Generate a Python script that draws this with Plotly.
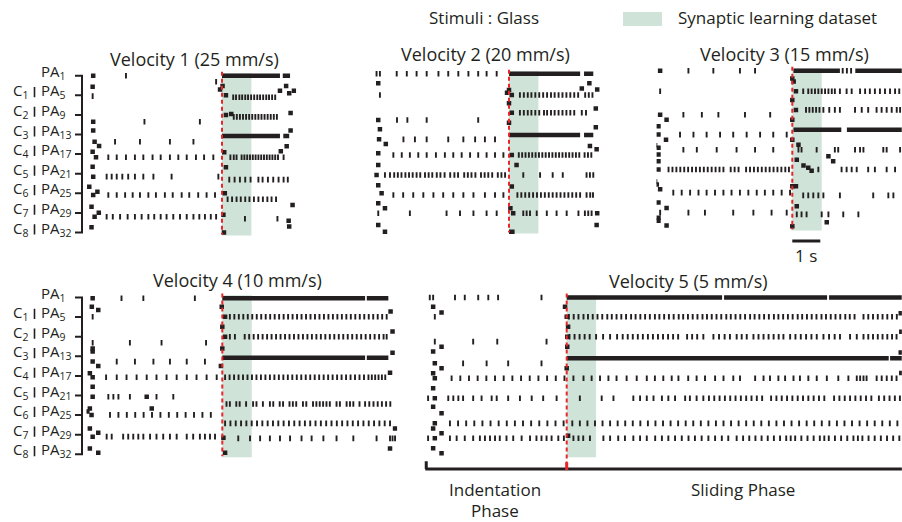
import plotly.graph_objects as go

W, H = 902, 522
PXS = 28.0     # pixels per second on every raster
UPX = 19.6     # pixels per afferent-row unit
FONT = "Open Sans"
INK = "#231f20"
GREEN = "#cfe3d8"
RED = "#e8262b"

TITLES = ["Velocity 1 (25 mm/s)", "Velocity 2 (20 mm/s)", "Velocity 3 (15 mm/s)",
          "Velocity 4 (10 mm/s)", "Velocity 5 (5 mm/s)"]
PA_LABELS = ["PA<sub>1</sub>", "PA<sub>5</sub>", "PA<sub>9</sub>", "PA<sub>13</sub>", "PA<sub>17</sub>",
             "PA<sub>21</sub>", "PA<sub>25</sub>", "PA<sub>29</sub>", "PA<sub>32</sub>"]
C_LABELS = ["C<sub>1</sub>", "C<sub>2</sub>", "C<sub>3</sub>", "C<sub>4</sub>",
            "C<sub>5</sub>", "C<sub>6</sub>", "C<sub>7</sub>", "C<sub>8</sub>"]

# ---------------- spike data (time in s from sliding onset, row position) ----------------
P1_ROWS = [
    (0.0, [-3.43]), (0.31, [-0.21]), (1.04, [-4.62]), (2.35, [-2.77, -0.79]),
    (3.37, [-3.82, -2.93, -1.86, -1.02]),
    (4.16, [-4.06, -3.76, -3.43, -3.11, -2.81, -2.48, -2.19, -1.86, -1.56, -1.26, -0.93, -0.64, -0.31]),
    (5.15, [-4.12, -3.94, -3.76, -3.56, -3.35, -3.11, -2.81, -2.45, -1.8, -0.13]),
    (6.09, [-4.06, -3.76, -3.46, -3.19, -2.93, -2.63, -2.36, -2.04, -1.76, -1.44, -1.17, -0.85, -0.55, -0.25]),
    (7.2, [-4.12, -3.9, -3.64, -3.37, -3.11, -2.87, -2.63, -2.42, -2.19, -1.98, -1.74, -1.5, -1.26, -1.02,
           -0.81, -0.61, -0.4, -0.21]),
    (1.1, [0.4, 0.5, 0.62, 0.72, 0.83, 0.93, 1.04, 1.15, 1.26, 1.36, 1.47, 1.58, 1.68, 1.79, 1.9]),
    (2.1, [0.42, 0.53, 0.64, 0.75, 0.86, 0.97, 1.08, 1.19, 1.3, 1.41, 1.52, 1.63, 1.74, 1.85, 1.96]),
    (4.16, [0.3, 0.42, 0.52, 0.7, 0.8, 0.9, 1.0, 1.1, 1.2, 1.3, 1.4, 1.5, 1.6, 1.7, 1.8, 1.9, 2.0, 2.2]),
    (5.3, [0.26, 0.45, 0.64, 0.83, 1.02, 1.3, 1.45, 1.64, 1.83, 2.02, 2.2, 2.35]),
    (6.3, [0.2, 0.36, 0.52, 0.67, 0.83, 0.98, 1.14, 1.3, 1.46, 1.62, 1.77, 1.93]),
    (7.3, [0.82, 1.98]),
]
P1_DOTS_T = [-4.6, -4.62, -4.6, -4.6, -4.55, -4.39, -4.62, -4.5, -4.62, -4.6, -4.74, -4.45, -4.6, -4.66,
             -4.4, -4.55, -4.66,
             0.02, -0.07, 0.14, 0.14, 0.33, 0.08, 0.14, 0.1, 0.07, 0.05,
             2.07, 2.29, 2.4, 2.57, 2.45, 2.45, 2.1, 2.31, 2.52, 2.38, 2.4]
P1_DOTS_Y = [0.0, 0.56, 2.35, 2.8, 3.37, 3.59, 3.88, 4.16, 4.64, 5.15, 5.66, 5.92, 6.09, 6.68, 6.99, 7.2, 7.73,
             0.53, 0.7, 1.0, 2.0, 1.95, 3.9, 4.67, 6.0, 8.0, 7.1,
             0.77, 0.53, 0.9, 0.77, 1.9, 2.8, 3.85, 3.6, 6.6, 7.4, 7.7]
P1_BURSTS = [(0.0, 0.0, 2.07), (0.0, 2.17, 2.43), (3.08, 0.0, 2.07), (3.08, 2.19, 2.4)]

P2_ROWS = [
    (0.0, [-4.73, -4.61, -4.01, -3.65, -3.3, -2.94, -2.52, -2.17, -1.81, -1.45, -1.1, -0.8, -0.44]),
    (1.09, [-4.61]),
    (1.09, [0.39, 0.53, 0.67, 0.8, 0.94, 1.08, 1.22, 1.36, 1.5, 1.63, 1.77, 1.91, 2.05, 2.19, 2.33, 2.47,
            2.72, 2.85, 2.98]),
    (1.99, [0.39, 0.53, 0.67, 0.8, 0.94, 1.08, 1.25, 1.36, 1.5, 1.63, 1.77, 1.91, 2.05, 2.19, 2.33, 2.6, 2.75]),
    (2.36, [-4.0, -3.63, -2.94, -1.1]),
    (3.35, [-3.77, -3.36, -2.94, -2.17, -1.63, -1.21, -0.86, -0.5]),
    (4.15, [-4.13, -3.83, -3.54, -3.24, -2.94, -2.61, -2.29, -1.99, -1.69, -1.39, -1.1, -0.8, -0.5, -0.2]),
    (4.15, [0.35, 0.47, 0.59, 0.71, 0.83, 0.95, 1.07, 1.19, 1.31, 1.43, 1.55, 1.67, 1.79, 1.91, 2.03, 2.15,
            2.27, 2.39, 2.51, 2.7, 2.82, 2.94]),
    (5.17, [-4.43, -4.25, -4.1, -3.97, -3.84, -3.7, -3.57, -3.44, -3.3, -3.17, -3.0, -2.87, -2.74, -2.58,
            -2.45, -2.3, -2.1, -1.95, -1.82, -1.6, -1.47, -1.34, -1.2, -1.0, -0.87, -0.74, -0.6, -0.4,
            -0.27, -0.14]),
    (5.17, [0.51, 1.11, 1.56, 1.92, 2.77, 2.89, 3.01]),
    (6.19, [-4.13, -3.78, -3.42, -3.06, -2.7, -2.35, -1.99, -1.63, -1.27, -0.86, -0.5, -0.2]),
    (6.19, [0.3, 0.44, 0.58, 0.72, 0.86, 1.0, 1.14, 1.28, 1.42, 1.56, 1.7, 1.84, 1.98, 2.12, 2.26, 2.4,
            2.54, 2.77, 2.9, 3.0]),
    (7.12, [-4.67, -3.54, -2.23, -1.75, -1.27, -0.8, -0.44]),
    (7.12, [0.51, 0.63, 0.75, 0.99, 1.35, 1.7, 2.06, 2.48, 2.71, 2.83, 2.95]),
]
P2_DOTS_T = [-4.67, -4.67, -4.61, -4.64, -4.4, -4.67, -4.67, -4.73, -4.67, -4.55, -4.67, -4.43, -4.67, -4.43,
             0.0, -0.07, 0.1, 0.0, 0.1, 0.0, 0.1, 0.27, 0.1, 0.05, 0.15,
             2.6, 2.87, 3.15, 3.1, 3.1, 2.89, 3.13, 3.15, 3.13]
P2_DOTS_Y = [0.49, 2.36, 2.84, 3.35, 3.59, 4.06, 4.66, 5.17, 5.69, 6.1, 6.61, 6.87, 7.72, 8.06,
             0.83, 0.97, 1.09, 1.51, 1.99, 2.5, 4.15, 4.66, 5.76, 6.87, 7.12,
             0.75, 0.49, 0.8, 1.77, 2.73, 3.69, 3.86, 7.12, 7.72]
P2_BURSTS = [(0.0, 0.0, 2.54), (0.0, 2.68, 3.01), (3.13, 0.0, 2.54), (3.13, 2.68, 3.01), (8.06, 0.0, 0.2)]

P3_ROWS = [
    (0.0, [-3.71, -2.82, -1.87, -1.33]), (0.0, [1.8, 1.95, 2.1]),
    (1.05, [-4.72]),
    (1.05, [0.39, 0.57, 0.69, 0.81, 0.93, 1.05, 1.17, 1.29, 1.41, 1.52, 1.7, 1.94, 2.12, 2.42, 2.6, 2.77,
            2.95, 3.13, 3.31, 3.49, 3.67, 3.82]),
    (2.0, [0.49, 0.61, 0.73, 0.85, 0.97, 1.11, 1.32, 1.52, 1.7, 2.24, 2.48, 2.71, 3.01, 3.19, 3.37, 3.55,
           3.73, 3.85]),
    (2.25, [-3.89, -3.23, -2.64, -1.69, -0.79]),
    (3.26, [-4.01, -3.53, -3.06, -2.58, -2.11, -1.63, -1.15, -0.68, -0.2]),
    (4.03, [-3.89, -3.41, -2.7, -1.99, -1.33, -0.68]),
    (4.03, [0.22, 0.33, 0.87, 1.52, 1.64, 2.24, 2.42, 2.54, 3.25, 3.37, 3.85]),
    (5.04, [-4.96, -4.42, -4.28, -4.14, -4.0, -3.86, -3.72, -3.58, -3.44, -3.3, -3.16, -3.02, -2.88, -2.74,
            -2.6, -2.46, -2.2, -2.06, -1.92, -1.65, -1.51, -1.37, -1.23, -1.09, -0.95, -0.81, -0.67, -0.53,
            -0.39, -0.25, -0.12]),
    (5.04, [0.93, 1.76, 1.94, 2.12, 2.3, 2.71, 2.95, 3.37, 3.67]),
    (6.22, [-4.25, -3.95, -3.65, -3.35, -3.06, -2.76, -2.46, -2.17, -1.87, -1.57, -1.27, -0.98, -0.68,
            -0.38, -0.08]),
    (6.36, [0.39, 0.57, 0.75, 0.93, 1.11, 1.7, 2.89, 3.43, 3.61]),
    (7.24, [-4.72, -3.71, -3.12, -2.11, -1.39, -0.74, -0.2]),
    (7.33, [0.16, 0.33, 0.51, 1.05, 1.29, 1.82, 2.36]),
]
P3_DOTS_T = [-4.72, -4.72, -4.49, -4.78, -4.78, -4.51, -4.9, -4.78, -4.78, -4.78, -4.78, -4.9, -4.84, -4.72,
             -4.78, -4.49, -4.78, -4.78, -4.49,
             0.0, 0.05, 0.0, 0.13, 0.13, 0.0, 0.0, 0.22, 1.29, 1.46, 0.16, 0.4, 0.57, 0.69, 0.0, 0.13, 0.16,
             1.23, 0.0]
P3_DOTS_Y = [0.0, 2.25, 2.5, 2.84, 3.26, 3.52, 3.8, 3.93, 4.28, 4.62, 5.04, 5.65, 5.8, 6.05, 6.73, 7.0, 7.5,
             7.66, 7.9,
             0.4, 0.55, 1.49, 1.05, 2.0, 2.5, 3.52, 3.78, 4.37, 4.62, 4.54, 4.84, 4.95, 5.1, 5.89, 5.89, 6.91,
             7.73, 7.93]
P3_BURSTS = [(0.0, 0.04, 1.7), (0.0, 2.25, 3.92), (3.01, 0.04, 1.75), (3.01, 1.95, 3.92)]

P4_ROWS = [
    (0.04, [-3.6, -2.82, -0.98]),
    (0.98, [-4.63]),
    (0.98, [0.27, 0.43, 0.59, 0.75, 0.91, 1.07, 1.23, 1.39, 1.55, 1.71, 1.87, 2.03, 2.19, 2.35, 2.51, 2.67,
            2.83, 2.99, 3.15, 3.31, 3.47, 3.63, 3.79, 3.95, 4.11, 4.27, 4.43, 4.59, 4.75, 4.91, 5.07, 5.23,
            5.39, 5.55, 5.71, 5.87]),
    (2.0, [0.27, 0.45, 0.8, 0.96, 1.12, 1.28, 1.44, 1.6, 1.76, 1.92, 2.08, 2.24, 2.4, 2.56, 2.72, 2.88,
           3.04, 3.2, 3.36, 3.52, 3.68, 3.84, 4.0, 4.16, 4.32, 4.48, 4.64, 4.8, 4.96, 5.12, 5.28, 5.44, 5.6,
           5.76, 5.87]),
    (2.31, [-4.63, -3.3, -2.17, -0.58]),
    (3.27, [-3.77, -3.12, -2.46, -1.87, -1.27, -0.62]),
    (4.07, [-4.15, -3.77, -3.42, -3.06, -2.7, -2.35, -1.99, -1.63, -1.27, -0.92, -0.56, -0.2]),
    (4.07, [0.1, 0.26, 0.42, 0.58, 0.74, 0.9, 1.06, 1.22, 1.38, 1.54, 1.7, 1.86, 2.02, 2.18, 2.34, 2.5,
            2.66, 2.82, 2.98, 3.14, 3.3, 3.46, 3.62, 3.78, 3.94, 4.1, 4.26, 4.42, 4.58, 4.74, 4.9, 5.06, 5.22,
            5.34, 5.46, 5.58, 5.7, 5.82]),
    (5.06, [-4.07, -3.89, -3.71, -3.3, -2.35, -1.75]),
    (5.43, [0.15, 0.27, 0.5, 0.62, 0.85, 1.1, 1.22, 1.45, 1.7, 1.82, 2.05, 2.17, 2.4, 2.52, 2.64, 2.88, 3.0,
            3.24, 3.36, 3.48, 3.6, 3.72, 3.84, 4.08, 4.2, 4.44, 4.56, 4.68, 4.9, 5.1, 5.25, 5.4, 5.55, 5.7,
            5.85, 6.0]),
    (5.99, [-4.01, -3.71, -3.41, -3.11, -2.81, -2.51, -2.21, -1.91, -1.61, -1.31, -1.01, -0.71, -0.41]),
    (6.42, [0.1, 0.29, 0.48, 0.67, 0.86, 1.05, 1.24, 1.43, 1.62, 1.81, 2.0, 2.19, 2.38, 2.57, 2.76, 2.95,
            3.14, 3.33, 3.52, 3.71, 3.9, 4.09, 4.28, 4.47, 4.66, 4.85, 5.04, 5.23, 5.42, 5.61, 5.8, 5.99]),
    (7.1, [-4.13, -3.95, -3.54, -3.36, -3.18, -3.0, -2.82, -2.58, -2.35, -2.11, -1.87, -1.63, -1.27, -1.04,
           -0.8, -0.62, -0.44, -0.26]),
    (7.19, [0.57, 0.99, 1.35, 1.7, 2.06, 2.42, 2.83, 3.19, 3.61, 4.08, 4.68, 5.51, 5.99, 6.08, 6.17]),
]
P4_DOTS_T = [-4.63, -4.66, -4.43, -4.63, -4.63, -4.63, -4.43, -4.73, -4.63, -4.63, -4.63, -2.7, -2.52,
             -4.73, -4.82, -4.67, -4.73, -4.43, -4.63, -4.73, -4.43,
             -0.02, 0.1, 0.0, 0.1, 0.0, -0.05, 0.04, 0.1,
             6.01, 6.08, 6.08, 5.99, 6.17, 5.99]
P4_DOTS_Y = [0.04, 0.47, 0.64, 2.6, 2.76, 3.27, 3.49, 3.87, 4.07, 4.55, 5.06, 5.06, 5.66,
             5.66, 5.82, 5.99, 6.68, 6.9, 7.1, 7.7, 7.92,
             0.47, 0.98, 1.49, 2.0, 2.6, 3.49, 7.15, 7.92,
             0.72, 1.74, 2.82, 3.84, 6.68, 7.7]
P4_BURSTS = [(0.04, 0.0, 5.1), (0.04, 5.16, 5.93), (3.07, 0.0, 5.1), (3.07, 5.16, 5.93)]

P5_ROWS = [
    (0.0, [-4.89, -4.77, -3.99, -3.64, -3.16, -2.8, -2.45, -0.9]),
    (0.98, [-4.71]),
    (0.98, [0.08, 0.25, 0.42, 0.6, 0.76, 0.93, 1.1, 1.27, 1.45, 1.61, 1.78, 1.95, 2.12, 2.3, 2.46, 2.63, 2.8,
            2.97, 3.15, 3.31, 3.48, 3.65, 3.82, 4.0, 4.16, 4.33, 4.5, 4.67, 4.85, 5.01, 5.18, 5.35, 5.52,
            5.7, 5.86, 6.03, 6.2, 6.37, 6.55, 6.71, 6.88, 7.05, 7.22, 7.4, 7.56, 7.73, 7.9, 8.07, 8.25, 8.41,
            8.58, 8.75, 8.92, 9.1, 9.26, 9.43, 9.6, 9.77, 9.95, 10.11, 10.28, 10.6, 10.77, 10.94, 11.11,
            11.28, 11.45, 11.62, 11.79]),
    (2.0, [0.1, 0.28, 0.46, 0.64, 0.82, 1.05, 1.3, 1.55, 1.8, 2.0, 2.18, 2.36, 2.54, 2.72, 2.9, 3.08, 3.26,
           3.44, 3.62, 3.8, 3.98, 4.3, 4.48, 4.66, 4.88, 5.24, 5.44, 5.64, 5.83, 6.07, 6.25, 6.43, 6.67, 6.85,
           7.03, 7.21, 7.39, 7.57, 7.74, 7.98, 8.17, 8.36, 8.55, 8.74, 8.93, 9.17, 9.37, 9.57, 9.76, 10.12,
           10.36, 10.6, 10.77, 10.94, 11.11, 11.28, 11.45, 11.62, 11.78]),
    (2.25, [-4.71, -3.34, -2.48, -0.72]),
    (3.36, [-3.7, -2.86, -2.09, -0.9]),
    (4.12, [-4.11, -3.8, -3.49, -3.18, -2.87, -2.56, -2.25, -1.94, -1.63, -1.32, -1.01, -0.7, -0.39, -0.08]),
    (4.12, [0.24, 0.6, 0.89, 1.19, 1.49, 1.78, 2.14, 2.5, 2.86, 3.15, 3.45, 3.75, 3.99, 4.34, 4.64, 4.94,
            5.3, 5.6, 5.95, 6.19, 6.73, 7.03, 7.26, 7.56, 7.8, 8.1, 8.33, 8.63, 8.93, 9.29, 9.7, 10.06, 10.36,
            10.48, 10.6, 10.71, 11.07, 11.25, 11.43, 11.61, 11.78]),
    (5.14, [-4.95, -4.23, -4.05, -3.87, -3.7, -3.34, -3.04, -2.68, -2.5, -2.09, -1.67, -1.25, -0.84, -0.36]),
    (5.14, [0.47, 1.25, 1.67, 2.38, 2.62, 2.86, 3.1, 3.4, 3.63, 3.87, 4.23, 4.4, 4.64, 4.88, 5.08, 5.27,
            5.46, 5.65, 5.84, 6.03, 6.22, 6.41, 6.6, 6.79, 6.98, 7.3, 7.49, 7.68, 7.87, 8.06, 8.25, 8.44,
            8.63, 8.82, 9.01, 9.2, 9.55, 9.74, 9.93, 10.12, 10.31, 10.5, 10.69, 10.88, 11.15, 11.34, 11.53,
            11.72, 11.9]),
    (6.42, [-4.17, -3.88, -3.59, -3.3, -3.01, -2.72, -2.43, -2.14, -1.85, -1.56, -1.27, -0.98, -0.69, -0.4,
            -0.11]),
    (6.42, [0.2, 0.47, 0.74, 1.01, 1.28, 1.55, 1.82, 2.09, 2.36, 2.63, 2.9, 3.17, 3.44, 3.71, 3.98, 4.25,
            4.52, 4.79, 5.06, 5.33, 5.6, 5.87, 6.14, 6.41, 6.68, 6.95, 7.22, 7.49, 7.76, 8.03, 8.3, 8.57, 8.84,
            9.11, 9.38, 9.65, 9.92, 10.19, 10.46, 10.73, 11.0, 11.27, 11.54, 11.81]),
    (7.18, [-4.95, -4.17, -3.93, -3.64, -3.34, -3.1, -2.92, -2.74, -2.56, -2.39, -2.15, -1.91, -1.61, -1.31,
            -1.08, -0.9, -0.72, -0.54, -0.3, -0.1]),
    (7.18, [0.24, 0.42, 0.59, 0.83, 1.31, 1.55, 1.84, 2.08, 2.38, 2.62, 2.86, 3.16, 3.4, 3.63, 3.87, 4.11,
            4.35, 4.58, 4.82, 5.06, 5.3, 5.54, 5.77, 6.07, 6.3, 6.52, 6.74, 6.96, 7.18, 7.4, 7.62, 7.84, 8.0,
            8.16, 8.38, 8.6, 8.82, 9.04, 9.2, 9.36, 9.58, 9.8, 10.02, 10.24, 10.4, 10.56, 10.78, 11.0, 11.22,
            11.44, 11.66, 11.88]),
]
P5_DOTS_T = [-4.77, -4.47, -4.47, -4.77, -4.71, -4.47, -4.77, -4.71, -4.77, -4.71, -4.77, -4.47, -4.71,
             -4.77, -4.47, -4.71, -4.77, -4.47,
             -0.06, 0.0, 0.05, 0.02, 0.02, 0.0, 0.05,
             11.93, 11.95, 11.93, 11.95]
P5_DOTS_Y = [0.47, 0.77, 2.51, 2.76, 3.36, 3.61, 3.87, 4.12, 4.63, 5.14, 5.57, 5.91, 6.42, 6.68, 6.93, 7.18,
             7.69, 7.95,
             0.47, 0.98, 1.49, 2.0, 2.51, 3.61, 7.05,
             0.8, 1.75, 2.8, 3.85]
P5_BURSTS = [(0.0, 0.0, 5.55), (0.0, 5.62, 9.3), (0.0, 9.37, 11.97), (3.1, 0.0, 11.5), (3.1, 11.55, 11.97)]

# ---------------- panel geometry (pixels in the 902x522 frame) ----------------
PANELS = [
    dict(rows=P1_ROWS, dt=P1_DOTS_T, dy=P1_DOTS_Y, bursts=P1_BURSTS, onset=222.0, top=75.7,
         tmin=-4.85, tmax=2.65, ymax=8.6, title=(194, 59), labels=True, red_end=8.1),
    dict(rows=P2_ROWS, dt=P2_DOTS_T, dy=P2_DOTS_Y, bursts=P2_BURSTS, onset=509.0, top=73.7,
         tmin=-4.85, tmax=3.25, ymax=8.6, title=(485, 54), labels=False, red_end=8.1),
    dict(rows=P3_ROWS, dt=P3_DOTS_T, dy=P3_DOTS_Y, bursts=P3_BURSTS, onset=792.3, top=70.7,
         tmin=-4.85, tmax=3.91, ymax=9.0, title=(784, 54), labels=False, red_end=8.1),
    dict(rows=P4_ROWS, dt=P4_DOTS_T, dy=P4_DOTS_Y, bursts=P4_BURSTS, onset=222.3, top=297.5,
         tmin=-4.85, tmax=6.25, ymax=8.6, title=(237, 280), labels=True, red_end=8.1),
    dict(rows=P5_ROWS, dt=P5_DOTS_T, dy=P5_DOTS_Y, bursts=P5_BURSTS, onset=566.7, top=297.5,
         tmin=-5.05, tmax=11.97, ymax=9.0, title=(688, 281), labels=False, red_end=8.75),
]


def px(x):
    return x / W


def py(y):
    return 1 - y / H


fig = go.Figure()
shapes, annotations = [], []
layout_axes = {}

for i, p in enumerate(PANELS, start=1):
    xa, ya = f"x{i}", f"y{i}"
    xk = "xaxis" if i == 1 else f"xaxis{i}"
    yk = "yaxis" if i == 1 else f"yaxis{i}"
    left = p["onset"] + p["tmin"] * PXS
    right = p["onset"] + p["tmax"] * PXS
    top = p["top"] - 0.6 * UPX
    bottom = p["top"] + p["ymax"] * UPX
    layout_axes[xk] = dict(domain=[px(left), px(right)], range=[p["tmin"], p["tmax"]], visible=False,
                           anchor=ya, fixedrange=True)
    layout_axes[yk] = dict(domain=[py(bottom), py(top)], range=[p["ymax"], -0.6], visible=False,
                           anchor=xa, fixedrange=True)

    # synaptic-learning window (first ~1 s of sliding)
    shapes.append(dict(type="rect", xref=xa, yref=ya, x0=0, x1=1.05, y0=-0.12, y1=8.15,
                       fillcolor=GREEN, line=dict(width=0), layer="below"))

    tx, ty = [], []
    for yrow, times in p["rows"]:
        tx += times
        ty += [yrow] * len(times)
    fig.add_trace(go.Scatter(x=tx, y=ty, xaxis=xa, yaxis=ya, mode="markers", hoverinfo="skip",
                             marker=dict(symbol="line-ns", size=4, line=dict(width=1.9, color=INK))))
    fig.add_trace(go.Scatter(x=p["dt"], y=p["dy"], xaxis=xa, yaxis=ya, mode="markers", hoverinfo="skip",
                             marker=dict(symbol="square", size=4.5, color=INK, line=dict(width=0))))
    bx, by = [], []
    for yrow, t0, t1 in p["bursts"]:
        bx += [t0, t1, None]
        by += [yrow, yrow, None]
    fig.add_trace(go.Scatter(x=bx, y=by, xaxis=xa, yaxis=ya, mode="lines", hoverinfo="skip",
                             line=dict(color=INK, width=4.5)))

    # onset marker
    shapes.append(dict(type="line", xref=xa, yref=ya, x0=0, x1=0, y0=-0.2, y1=p["red_end"],
                       line=dict(color=RED, width=2, dash="4px,3px"), layer="above"))

    annotations.append(dict(text=TITLES[i - 1], xref="paper", yref="paper", x=px(p["title"][0]),
                            y=py(p["title"][1]), xanchor="center", yanchor="middle", showarrow=False,
                            font=dict(family=FONT, size=18, color=INK)))

    if p["labels"]:
        bx_px = 82.0
        shapes.append(dict(type="line", xref="paper", yref=ya, x0=px(bx_px), x1=px(bx_px), y0=0, y1=8,
                           line=dict(color=INK, width=2)))
        for k in range(9):
            shapes.append(dict(type="line", xref="paper", yref=ya, x0=px(bx_px - 7), x1=px(bx_px + 1),
                               y0=k, y1=k, line=dict(color=INK, width=2)))
            annotations.append(dict(text=PA_LABELS[k], xref="paper", yref=ya, x=px(39), y=k,
                                    xanchor="left", yanchor="middle", yshift=4, showarrow=False,
                                    font=dict(family=FONT, size=15, color=INK)))
        for k in range(1, 9):
            annotations.append(dict(text=C_LABELS[k - 1], xref="paper", yref=ya, x=px(30), y=k,
                                    xanchor="right", yanchor="middle", yshift=4, showarrow=False,
                                    font=dict(family=FONT, size=15, color=INK)))
            shapes.append(dict(type="line", xref="paper", yref=ya, x0=px(34.5), x1=px(34.5),
                               y0=k - 0.42, y1=k + 0.1, line=dict(color=INK, width=1.6)))

# scale bar (panel 3)
shapes.append(dict(type="line", xref="x3", yref="y3", x0=0, x1=1, y0=8.69, y1=8.69,
                   line=dict(color=INK, width=3)))
annotations.append(dict(text="1 s", xref="x3", yref="paper", x=0.5, y=py(255), xanchor="center",
                        yanchor="middle", showarrow=False, font=dict(family=FONT, size=17, color=INK)))

# phase bracket (panel 5)
shapes.append(dict(type="line", xref="x5 domain", yref="y5", x0=0, x1=1, y0=8.75, y1=8.75,
                   line=dict(color=INK, width=3)))
shapes.append(dict(type="line", xref="x5 domain", yref="y5", x0=0.002, x1=0.002, y0=8.35, y1=8.75,
                   line=dict(color=INK, width=3)))
shapes.append(dict(type="line", xref="x5", yref="y5", x0=0, x1=0, y0=8.4, y1=8.8,
                   line=dict(color=RED, width=3)))
annotations += [
    dict(text="Indentation", xref="paper", yref="paper", x=px(495), y=py(489), xanchor="center",
         yanchor="middle", showarrow=False, font=dict(family=FONT, size=17, color=INK)),
    dict(text="Phase", xref="paper", yref="paper", x=px(495), y=py(510), xanchor="center",
         yanchor="middle", showarrow=False, font=dict(family=FONT, size=17, color=INK)),
    dict(text="Sliding Phase", xref="paper", yref="paper", x=px(743), y=py(489), xanchor="center",
         yanchor="middle", showarrow=False, font=dict(family=FONT, size=17, color=INK)),
    dict(text="Stimuli : Glass", xref="paper", yref="paper", x=px(484), y=py(18), xanchor="center",
         yanchor="middle", showarrow=False, font=dict(family=FONT, size=17, color=INK)),
    dict(text="Synaptic learning dataset", xref="paper", yref="paper", x=px(676), y=py(18), xanchor="left",
         yanchor="middle", showarrow=False, font=dict(family=FONT, size=17, color=INK)),
]
shapes.append(dict(type="rect", xref="paper", yref="paper", x0=px(623), x1=px(662), y0=py(26), y1=py(12),
                   fillcolor=GREEN, line=dict(width=0)))

fig.update_layout(width=W, height=H, margin=dict(l=0, r=0, t=0, b=0), showlegend=False,
                  plot_bgcolor="white", paper_bgcolor="white", shapes=shapes, annotations=annotations,
                  **layout_axes)
fig.write_html("out.html")
